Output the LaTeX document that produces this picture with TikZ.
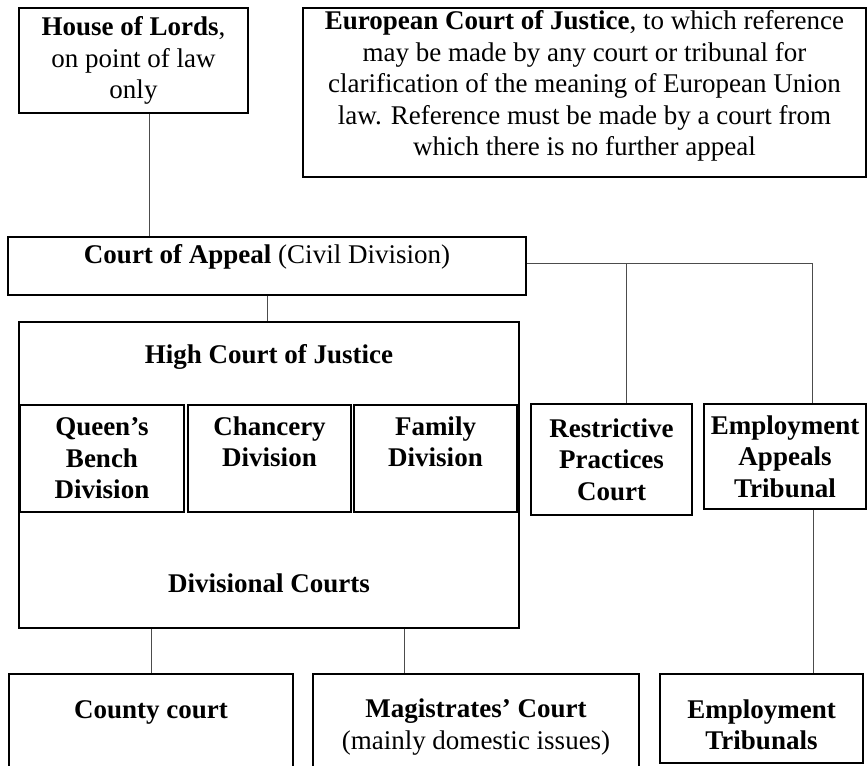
\documentclass[tikz,border=0pt]{standalone}
\usepackage{fontspec}
\setmainfont{Liberation Serif}
\usepackage{tikz}
\tikzset{%
    court/.style={%
        draw, line width=1.6pt, inner sep=0pt, align=center,
        font=\fontsize{27}{31.5}\selectfont
    },
    words/.style={%
        inner sep=0pt, align=center,
        font=\fontsize{27}{31.5}\selectfont
    },
    link/.style={draw=black!70, line width=0.8pt}
}

\begin{document}
\begin{tikzpicture}[x=1pt,y=-1pt]
    \useasboundingbox (0,0) rectangle (868,766);
    \clip (0,0) rectangle (868,766);
    % top row
    \node[court, minimum width=229pt, minimum height=105pt] (lords) at (133.5,60.5)
        {\textbf{House of Lords},\\on point of law\\only};
    \node[court, minimum width=563pt, minimum height=169pt] (ecj) at (584.5,92.5) {};
    \node[words] (ecjtext) at (584.5,86)
        {\textbf{European Court of Justice}, to which reference\\
         may be made by any court or tribunal for\\
         clarification of the meaning of European Union\\
         law. Reference must be made by a court from\\
         which there is no further appeal};
    % appeal
    \node[court, minimum width=518pt, minimum height=58pt] (appeal) at (267,266) {};
    \node[words] (appealtext) at (267,257) {\textbf{Court of Appeal} (Civil Division)};
    % high court
    \node[court, minimum width=500pt, minimum height=306pt] (high) at (269,475) {};
    \node[words] (hightitle) at (269,357) {\textbf{High Court of Justice}};
    \node[words] (divcourts) at (269,583) {\textbf{Divisional Courts}};
    \node[court, minimum width=164pt, minimum height=107pt] (queens) at (102,458.5)
        {\textbf{Queen’s}\\\textbf{Bench}\\\textbf{Division}};
    \node[court, minimum width=163pt, minimum height=107pt] (chancery) at (269.5,458.5) {};
    \node[court, minimum width=163pt, minimum height=107pt] (family) at (435.5,458.5) {};
    \node[words] (chancerytext) at (269.5,442) {\textbf{Chancery}\\\textbf{Division}};
    \node[words] (familytext) at (435.5,442) {\textbf{Family}\\\textbf{Division}};
    % right side
    \node[court, minimum width=161pt, minimum height=111pt] (rpc) at (611.5,459.5)
        {\textbf{Restrictive}\\\textbf{Practices}\\\textbf{Court}};
    \node[court, minimum width=162pt, minimum height=105pt] (eat) at (785,456.5)
        {\textbf{Employment}\\\textbf{Appeals}\\\textbf{Tribunal}};
    % bottom row
    \node[court, minimum width=284pt, minimum height=126pt] (county) at (151,737) {};
    \node[words] (countytext) at (151,712) {\textbf{County court}};
    \node[court, minimum width=326pt, minimum height=126pt] (magistrates) at (476,737) {};
    \node[words] (magistratestext) at (476,727)
        {\textbf{Magistrates’ Court}\\(mainly domestic issues)};
    \node[court, minimum width=203pt, minimum height=89pt] (tribunals) at (761.5,718.5) {};
    \node[words] (tribunalstext) at (761.5,725) {\textbf{Employment}\\\textbf{Tribunals}};

    % connectors
    \path (lords.south) ++(15.5,0) coordinate (lordsdrop);
    \draw[link] (lordsdrop) -- (lordsdrop |- appeal.north);
    \draw[link] (appeal.south) -- (appeal.south |- high.north);
    \coordinate (fork) at (626,263);
    \coordinate (corner) at (812,263);
    \draw[link] (appeal.east |- corner) -- (corner) -- (corner |- eat.north);
    \draw[link] (fork) -- (fork |- rpc.north);
    \draw[link] (county.north |- high.south) -- (county.north);
    \path (magistrates.north) ++(-72,0) coordinate (magtop);
    \draw[link] (magtop |- high.south) -- (magtop);
    \path (tribunals.north) ++(51.5,0) coordinate (tribtop);
    \draw[link] (tribtop |- eat.south) -- (tribtop);
\end{tikzpicture}
\end{document}
